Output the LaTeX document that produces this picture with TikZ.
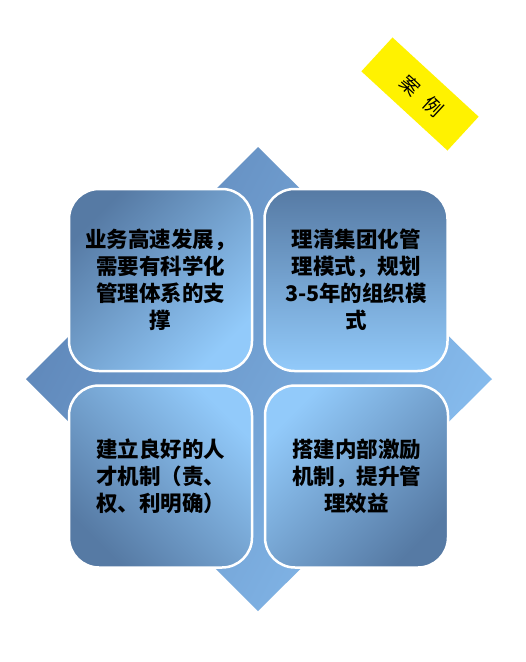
\documentclass[tikz,border=0pt]{standalone}
\usepackage{fontspec}
\newfontfamily\cjk{Noto Sans CJK SC}
\definecolor{boxdark}{RGB}{86,122,164}
\definecolor{boxlight}{RGB}{146,202,250}
\definecolor{diadark}{RGB}{94,134,184}
\definecolor{dialight}{RGB}{136,190,240}
\begin{document}
\begin{tikzpicture}[x=1pt,y=-1pt,
  quad/.style={draw=white, line width=2.5pt, rounded corners=30pt,
    minimum width=183pt, minimum height=182pt, inner sep=0pt, align=center,
    font=\cjk\bfseries\fontsize{21.5pt}{27pt}\selectfont, text=black},
  tag/.style={fill=yellow, minimum width=117pt, minimum height=46pt, inner sep=0pt,
    font=\cjk\fontsize{19pt}{22pt}\selectfont, text=black}]
\useasboundingbox (0,0) rectangle (526,662);
\fill[white] (0,0) rectangle (526,662);
% background diamond
\shade[top color=diadark, bottom color=dialight, shading angle=62]
  (258,147) -- (492,379) -- (258,611) -- (26,379) -- cycle;
% four boxes
\node[quad, top color=boxdark, bottom color=boxlight, shading angle=45] (tl) at (160.5,280)
  {业务高速发展，\\需要有科学化\\管理体系的支\\撑};
\node[quad, top color=boxdark, bottom color=boxlight] (tr) at (356,280)
  {理清集团化管\\理模式，规划\\3-5年的组织模\\式};
\node[quad, top color=boxlight, bottom color=boxdark, shading angle=-45] (bl) at (160.5,476.5)
  {建立良好的人\\才机制（责、\\权、利明确）};
\node[quad, top color=boxlight, bottom color=boxdark, shading angle=45] (br) at (356.5,476.5)
  {搭建内部激励\\机制，提升管\\理效益};
% label
\node[tag, rotate=-42.6] (case) at (420,94) {\hspace{6pt}\raisebox{-3pt}{案\hspace{12pt}例}};
\end{tikzpicture}
\end{document}
